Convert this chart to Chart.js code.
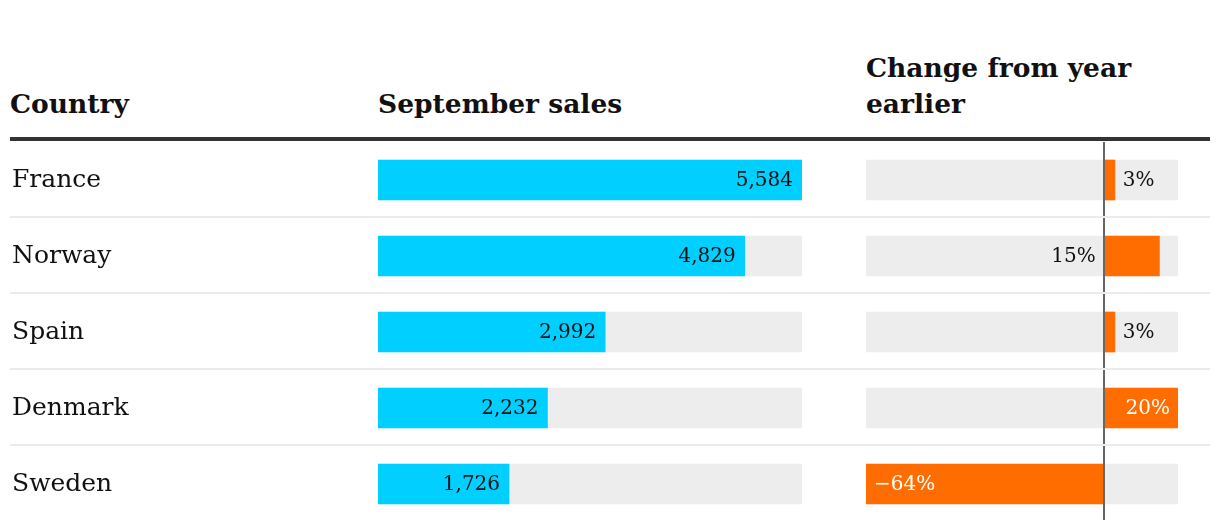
<!DOCTYPE html>
<html>
<head>
<meta charset="utf-8">
<script src="https://cdn.jsdelivr.net/npm/chart.js@4.4.1/dist/chart.umd.min.js"></script>
<style>
    html, body { margin: 0; padding: 0; background: #fff; }
    body { width: 1220px; height: 530px; position: relative; overflow: hidden; font-family: 'DejaVu Serif', serif; color: #111; }
    .head { position: absolute; font-weight: bold; font-size: 26.5px; line-height: 36px; white-space: nowrap; }
    .rule { position: absolute; left: 10px; width: 1200px; top: 137px; height: 4px; background: #333; }
    .sep { position: absolute; left: 10px; width: 1200px; height: 2px; background: #ebebeb; z-index: 2; }
    canvas { position: absolute; }
</style>
</head>
<body>
<div class="head" style="left:10px; top:86px;">Country</div>
<div class="head" style="left:378px; top:86px;">September sales</div>
<div class="head" style="left:866px; top:50px;">Change from year<br>earlier</div>
<div class="rule"></div>
<canvas id="salesChart" width="802" height="380" style="left:0; top:142px;"></canvas>
<canvas id="changeChart" width="312" height="380" style="left:866px; top:142px;"></canvas>
<script>
(function () {
    const countries = ['France', 'Norway', 'Spain', 'Denmark', 'Sweden'];
    const sales = [5584, 4829, 2992, 2232, 1726];
    const change = [3, 15, 3, 20, -64];

    const CYAN = '#00cfff';
    const ORANGE = '#ff6d00';
    const TRACK = '#ededed';
    const FONT = 'DejaVu Serif';
    const ROW_H = 76;

    // row separators
    for (let i = 1; i < countries.length; i++) {
        const d = document.createElement('div');
        d.className = 'sep';
        d.style.top = (142 + i * ROW_H - 2) + 'px';
        document.body.appendChild(d);
    }

    const salesMax = Math.max.apply(null, sales);
    const chgMin = Math.min.apply(null, change);
    const chgMax = Math.max.apply(null, change);

    function fmtChange(v) { return (v < 0 ? '\u2212' : '') + Math.abs(v) + '%'; }

    // value labels for the bars
    const barLabels = {
        id: 'barLabels',
        afterDatasetsDraw(chart, args, opts) {
            const ctx = chart.ctx;
            const meta = chart.getDatasetMeta(0);
            const area = chart.chartArea;
            const pad = 8;
            ctx.save();
            ctx.font = '20px "' + FONT + '"';
            ctx.textBaseline = 'middle';
            meta.data.forEach(function (el, i) {
                const v = chart.data.datasets[0].data[i];
                if (opts.kind === 'sales') {
                    ctx.fillStyle = '#111';
                    ctx.textAlign = 'right';
                    ctx.fillText(v.toLocaleString('en-US'), el.x - pad - 1, el.y + 1);
                    return;
                }
                const txt = fmtChange(v);
                const w = ctx.measureText(txt).width;
                const barW = Math.abs(el.x - el.base);
                if (barW >= w + 2 * pad) {
                    ctx.fillStyle = '#fff';
                    ctx.textAlign = v >= 0 ? 'right' : 'left';
                    ctx.fillText(txt, v >= 0 ? el.x - pad : el.x + pad, el.y + 1);
                } else if (v >= 0 && el.x + pad + w <= area.right) {
                    ctx.fillStyle = '#111';
                    ctx.textAlign = 'left';
                    ctx.fillText(txt, el.x + pad, el.y + 1);
                } else if (v >= 0) {
                    ctx.fillStyle = '#111';
                    ctx.textAlign = 'right';
                    ctx.fillText(txt, el.base - pad, el.y + 1);
                } else {
                    ctx.fillStyle = '#111';
                    ctx.textAlign = 'left';
                    ctx.fillText(txt, el.base + pad, el.y + 1);
                }
            });
            ctx.restore();
        }
    };

    const zeroLine = {
        id: 'zeroLine',
        afterDatasetsDraw(chart) {
            const x = Math.round(chart.scales.x.getPixelForValue(0));
            const ctx = chart.ctx;
            ctx.save();
            ctx.strokeStyle = '#666';
            ctx.lineWidth = 2;
            ctx.beginPath();
            ctx.moveTo(x, 0);
            ctx.lineTo(x, chart.height - 2);
            ctx.stroke();
            ctx.restore();
        }
    };

    new Chart(document.getElementById('salesChart'), {
        type: 'bar',
        data: {
            labels: countries,
            datasets: [
                { data: sales, backgroundColor: CYAN, order: 0, grouped: false, barThickness: 40 },
                { data: sales.map(function () { return salesMax; }), backgroundColor: TRACK, order: 1, grouped: false, barThickness: 40 }
            ]
        },
        options: {
            indexAxis: 'y',
            responsive: false,
            animation: false,
            layout: { padding: { left: 12, right: 0, top: 0, bottom: 0 } },
            plugins: { legend: { display: false }, tooltip: { enabled: false }, barLabels: { kind: 'sales' } },
            scales: {
                x: { display: false, min: 0, max: salesMax },
                y: {
                    offset: true,
                    grid: { display: false },
                    border: { display: false },
                    ticks: { crossAlign: 'far', color: '#111', font: { family: FONT, size: 25 } },
                    afterFit: function (scale) {
                        scale.width = 378 - 12;
                        scale.paddingTop = 0;
                        scale.paddingBottom = 0;
                    }
                }
            }
        },
        plugins: [barLabels]
    });

    new Chart(document.getElementById('changeChart'), {
        type: 'bar',
        data: {
            labels: countries,
            datasets: [
                { data: change, backgroundColor: ORANGE, order: 0, grouped: false, barThickness: 40 },
                { data: change.map(function () { return [chgMin, chgMax]; }), backgroundColor: TRACK, order: 1, grouped: false, barThickness: 40 }
            ]
        },
        options: {
            indexAxis: 'y',
            responsive: false,
            animation: false,
            layout: { padding: 0 },
            plugins: { legend: { display: false }, tooltip: { enabled: false }, barLabels: { kind: 'change' } },
            scales: {
                x: { display: false, min: chgMin, max: chgMax },
                y: { display: false, offset: true }
            }
        },
        plugins: [barLabels, zeroLine]
    });
})();
</script>
</body>
</html>
